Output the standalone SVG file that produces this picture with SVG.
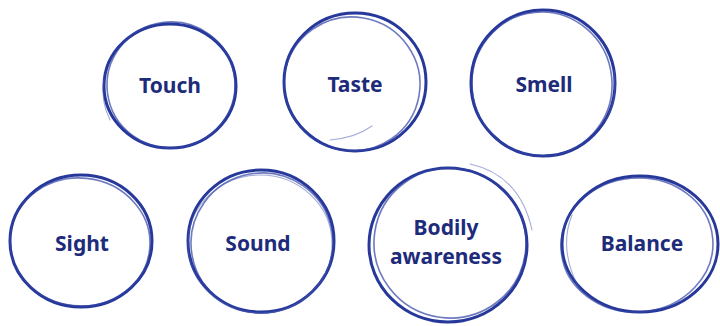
<svg xmlns="http://www.w3.org/2000/svg" width="720" height="326" viewBox="0 0 720 326">
<style>
.s1{fill:none;stroke:#26389a;stroke-width:3;stroke-linecap:round}
.s2{fill:none;stroke:#3042a4;stroke-width:1.6;opacity:.7;stroke-linecap:round}
.s3{fill:none;stroke:#4a5bb0;stroke-width:1.1;opacity:.5;stroke-linecap:round}
.t{font-family:"Noto Sans","Open Sans","Liberation Sans",sans-serif;font-weight:700;font-size:21px;fill:#1d2b7a;text-anchor:middle}
</style>
<rect width="720" height="326" fill="#fff"/>
<g id="touch">
<ellipse class="s1" cx="170" cy="86" rx="66" ry="62"/>
<ellipse class="s2" cx="171" cy="85" rx="64" ry="63" transform="rotate(-8 171 85)"/>
<path class="s3" d="M104 78 Q100 100 110 120"/>
<text class="t" x="170" y="93">Touch</text>
</g>
<g id="taste">
<ellipse class="s1" cx="355" cy="82" rx="71" ry="69"/>
<ellipse class="s2" cx="352" cy="84" rx="68" ry="67" transform="rotate(10 352 84)"/>
<path class="s3" d="M330 140 Q355 138 372 126"/>
<text class="t" x="355" y="92">Taste</text>
</g>
<g id="smell">
<ellipse class="s1" cx="543" cy="83" rx="72" ry="73"/>
<ellipse class="s2" cx="542" cy="84" rx="70" ry="72" transform="rotate(-6 542 84)"/>
<path class="s3" d="M606 120 Q618 100 614 70"/>
<text class="t" x="544" y="92">Smell</text>
</g>
<g id="sight">
<ellipse class="s1" cx="81" cy="241" rx="71" ry="66"/>
<ellipse class="s2" cx="80" cy="242" rx="70" ry="64" transform="rotate(6 80 242)"/>
<text class="t" x="82" y="251">Sight</text>
</g>
<g id="sound">
<ellipse class="s1" cx="261" cy="241" rx="73" ry="71"/>
<ellipse class="s2" cx="262" cy="243" rx="71" ry="70" transform="rotate(-10 262 243)"/>
<ellipse class="s3" cx="260" cy="244" rx="72" ry="69"/>
<text class="t" x="258" y="251">Sound</text>
</g>
<g id="bodily">
<ellipse class="s1" cx="448" cy="245" rx="79" ry="77"/>
<ellipse class="s2" cx="450" cy="243" rx="76" ry="75" transform="rotate(8 450 243)"/>
<path class="s3" d="M470 164 Q520 175 532 230"/>
<text class="t" x="446" y="235">Bodily</text>
<text class="t" x="446" y="264">awareness</text>
</g>
<g id="balance">
<ellipse class="s1" cx="640" cy="244" rx="78" ry="68"/>
<ellipse class="s2" cx="637" cy="245" rx="76" ry="67" transform="rotate(-5 637 245)"/>
<path class="s3" d="M572 215 Q558 250 580 290"/>
<text class="t" x="642" y="251">Balance</text>
</g>
</svg>
